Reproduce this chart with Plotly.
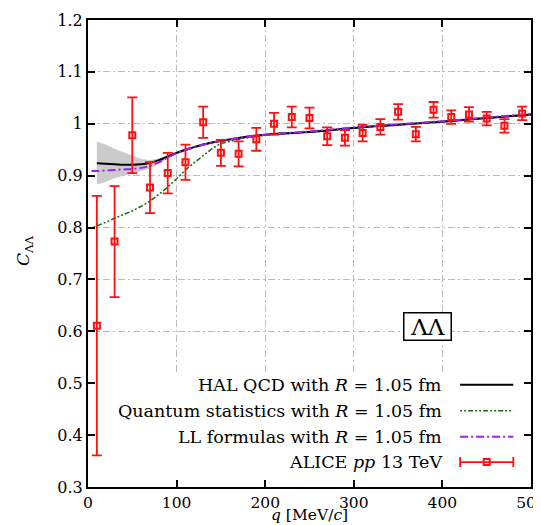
import plotly.graph_objects as go

# ---- data ----
q_data = [10, 30, 50, 70, 90, 110, 130, 150, 170, 190, 210, 230, 250,
          270, 290, 310, 330, 350, 370, 390, 410, 430, 450, 470, 490]
C_data = [0.611, 0.773, 0.978, 0.877, 0.905, 0.926, 1.003, 0.944, 0.942, 0.970,
          1.000, 1.013, 1.011, 0.976, 0.973, 0.982, 0.994, 1.023, 0.980, 1.027,
          1.013, 1.018, 1.010, 0.996, 1.020]
C_err = [0.250, 0.107, 0.073, 0.049, 0.039, 0.034, 0.030, 0.025, 0.024, 0.022,
         0.021, 0.020, 0.020, 0.017, 0.015, 0.016, 0.015, 0.015, 0.014, 0.015,
         0.013, 0.014, 0.013, 0.013, 0.013]

hal_q = [10, 20, 30, 40, 50, 60, 70, 80, 90, 100, 110, 120, 130, 140, 150,
         175, 200, 250, 300, 350, 400, 450, 500]
hal_C = [0.924, 0.923, 0.922, 0.921, 0.921, 0.922, 0.925, 0.930, 0.937, 0.944,
         0.950, 0.955, 0.960, 0.964, 0.967, 0.974, 0.979, 0.984, 0.992, 0.998,
         1.004, 1.011, 1.018]
band_q = [10, 20, 30, 40, 50, 60, 70, 80, 90, 100, 120, 150, 200, 300, 400, 500]
band_hi = [0.966, 0.960, 0.952, 0.945, 0.938, 0.932, 0.930, 0.933, 0.940, 0.947,
           0.957, 0.969, 0.981, 0.994, 1.006, 1.020]
band_lo = [0.883, 0.888, 0.895, 0.900, 0.904, 0.909, 0.914, 0.922, 0.933, 0.941,
           0.953, 0.965, 0.977, 0.990, 1.002, 1.016]

qs_q = [2, 10, 20, 30, 40, 50, 60, 70, 80, 90, 100, 110, 120, 130, 140, 150,
        175, 200, 250, 300, 350, 400, 450, 500]
qs_C = [0.798, 0.803, 0.810, 0.818, 0.825, 0.832, 0.841, 0.851, 0.864, 0.878,
        0.894, 0.911, 0.925, 0.938, 0.952, 0.962, 0.972, 0.978, 0.984, 0.992,
        0.998, 1.004, 1.011, 1.018]

ll_q = [4, 10, 20, 30, 40, 50, 60, 70, 80, 90, 100, 110, 120, 130, 140, 150,
        175, 200, 250, 300, 350, 400, 450, 500]
ll_C = [0.909, 0.909, 0.910, 0.911, 0.912, 0.913, 0.915, 0.919, 0.926, 0.935,
        0.943, 0.950, 0.955, 0.960, 0.964, 0.967, 0.974, 0.979, 0.985, 0.993,
        0.999, 1.005, 1.012, 1.019]

x_ticks = [0, 100, 200, 300, 400, 500]
y_ticks = [0.3, 0.4, 0.5, 0.6, 0.7, 0.8, 0.9, 1.0, 1.1, 1.2]
y_ticktext = ["0.3", "0.4", "0.5", "0.6", "0.7", "0.8", "0.9", "1", "1.1", "1.2"]

legend_labels = ["HAL QCD with <i>R</i> = 1.05 fm",
                 "Quantum statistics with <i>R</i> = 1.05 fm",
                 "LL formulas with <i>R</i> = 1.05 fm",
                 "ALICE <i>pp</i> 13 TeV"]

FONT = "DejaVu Serif"
RED = "#ff1010"
BLACK = "#000000"
GREEN = "#1a6b1a"
PURPLE = "#a020f0"

# figure geometry (page body has an 8px margin)
W, H = 533, 517
ML, MR, MT, MB = 80, 10, 12, 38
PW, PH = W - ML - MR, H - MT - MB

fig = go.Figure()

# band
fig.add_trace(go.Scatter(x=band_q + band_q[::-1], y=band_hi + band_lo[::-1],
                         fill="toself", fillcolor="rgba(200,200,200,0.95)",
                         line=dict(width=0), mode="lines", hoverinfo="skip"))
fig.add_trace(go.Scatter(x=qs_q, y=qs_C, mode="lines",
                         line=dict(color=GREEN, width=1.5, dash="2px,2px,2px,2px,5px,2px")))
fig.add_trace(go.Scatter(x=hal_q, y=hal_C, mode="lines",
                         line=dict(color=BLACK, width=2, shape="spline")))
fig.add_trace(go.Scatter(x=ll_q, y=ll_C, mode="lines",
                         line=dict(color=PURPLE, width=2, dash="8px,3px,2px,3px", shape="spline")))
fig.add_trace(go.Scatter(x=q_data, y=C_data, mode="markers",
                         marker=dict(symbol="square-open", size=6, color=RED,
                                     line=dict(color=RED, width=2)),
                         error_y=dict(type="data", array=C_err, color=RED,
                                      thickness=1.8, width=5)))

# legend (manual: text left, sample right)
leg_y = [0.497, 0.447, 0.397, 0.348]
x0, x1 = 420, 480
for lab, yy in zip(legend_labels, leg_y):
    fig.add_annotation(x=402, y=yy, xref="x", yref="y", text=lab, showarrow=False,
                       xanchor="right", yanchor="middle",
                       font=dict(family=FONT, size=17.5, color="black"))
fig.add_trace(go.Scatter(x=[x0, x1], y=[leg_y[0]] * 2, mode="lines",
                         line=dict(color=BLACK, width=2)))
fig.add_trace(go.Scatter(x=[x0, x1], y=[leg_y[1]] * 2, mode="lines",
                         line=dict(color=GREEN, width=1.5, dash="2px,2px,2px,2px,5px,2px")))
fig.add_trace(go.Scatter(x=[x0, x1], y=[leg_y[2]] * 2, mode="lines",
                         line=dict(color=PURPLE, width=2, dash="8px,3px,2px,3px")))
fig.add_trace(go.Scatter(x=[(x0 + x1) / 2], y=[leg_y[3]], mode="markers",
                         marker=dict(symbol="square-open", size=6, color=RED,
                                     line=dict(color=RED, width=2)),
                         error_x=dict(type="constant", value=(x1 - x0) / 2, color=RED,
                                      thickness=1.8, width=5)))

# white legend background hiding grid
fig.add_shape(type="rect", xref="x", yref="y", x0=0, x1=500, y0=0.3, y1=0.52,
              fillcolor="white", line=dict(width=0), layer="between")

# ΛΛ box
fig.add_annotation(x=383, y=0.610, xref="x", yref="y", text="ΛΛ", showarrow=False,
                   font=dict(family=FONT, size=23, color="black"),
                   width=46, height=26, align="center", valign="middle",
                   bordercolor="black", borderwidth=1.5, borderpad=0,
                   bgcolor="white")

# axis titles (positions given in figure pixels, converted to paper fractions)
fig.add_annotation(x=(17 - ML) / PW, y=1 - (243 - MT) / PH, xref="paper", yref="paper",
                   xanchor="center", yanchor="middle",
                   text="<i>C</i><sub>ΛΛ</sub>", textangle=-90, showarrow=False,
                   font=dict(family=FONT, size=17, color="black"))
fig.add_annotation(x=0.5, y=1 - (507 - MT) / PH, xref="paper", yref="paper",
                   xanchor="center", yanchor="middle",
                   text="<i>q</i> [MeV/<i>c</i>]", showarrow=False,
                   font=dict(family=FONT, size=15.5, color="black"))

axis_common = dict(showline=True, linecolor="black", linewidth=2, mirror="allticks",
                   ticks="inside", ticklen=7, tickwidth=1.5, tickcolor="black",
                   showgrid=True, gridcolor="#bbbbbb", griddash="7px,3px,2px,3px", gridwidth=1,
                   zeroline=False, automargin=False, ticklabeloverflow="allow")

fig.update_xaxes(range=[0, 500], tickvals=x_ticks,
                 tickfont=dict(family=FONT, size=15.5, color="black"), **axis_common)
fig.update_yaxes(range=[0.3, 1.2], tickvals=y_ticks, ticktext=y_ticktext,
                 tickfont=dict(family=FONT, size=16, color="black"), **axis_common)

fig.update_layout(width=W, height=H, showlegend=False,
                  margin=dict(l=ML, r=MR, t=MT, b=MB, autoexpand=False),
                  paper_bgcolor="white", plot_bgcolor="white",
                  font=dict(family=FONT, color="black"))

fig.write_html("out.html")
